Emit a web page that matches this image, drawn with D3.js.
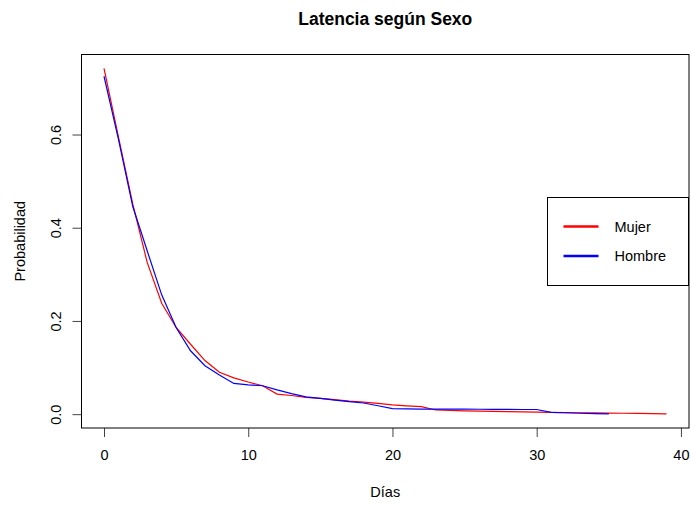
<!DOCTYPE html>
<html>
<head>
	<script src="https://d3js.org/d3.v7.min.js"></script>
	<meta charset="utf-8">
	<title>Latencia según Sexo</title>
	<style>
		body { margin: 0; background: #fff; }
		text { font-family: "Liberation Sans", Arial, Helvetica, sans-serif; fill: #000; }
	</style>
</head>
<body>
	<div id="chart"></div>

	<script type="text/javascript">

		// datos
		var diasMujer = [0,1,2,3,4,5,6,7,8,9,10,11,12,13,14,15,16,17,18,19,20,21,22,23,24,25,26,27,28,29,30,31,32,33,34,35,36,37,38,39];
		var probMujer = [0.742,0.595,0.450,0.325,0.238,0.186,0.150,0.115,0.090,0.078,0.069,0.061,0.043,0.040,0.036,0.034,0.031,0.028,0.026,0.023,
			0.020,0.018,0.016,0.009,0.008,0.007,0.0065,0.006,0.0055,0.005,0.0045,0.004,0.0035,0.003,0.0027,0.0023,0.002,0.0015,0.001,0.0005];

		var diasHombre = [0,1,2,3,4,5,6,7,8,9,10,11,12,13,14,15,16,17,18,19,20,21,22,23,24,25,26,27,28,29,30,31,32,33,34,35];
		var probHombre = [0.725,0.590,0.445,0.350,0.256,0.186,0.136,0.104,0.084,0.066,0.063,0.061,0.052,0.044,0.037,0.034,0.030,0.027,0.024,0.018,
			0.012,0.0115,0.011,0.011,0.011,0.0108,0.0106,0.0104,0.0102,0.010,0.010,0.004,0.003,0.002,0.001,0.0005];

		var xTicks = [0,10,20,30,40];
		var yTicks = [0.0,0.2,0.4,0.6];
		var leyenda = ["Mujer","Hombre"];
		var colores = ["red","blue"];

		var svgwidth = 691;
		var svgheight = 505;
		var plotLeft = 81.5, plotRight = 689, plotTop = 54.5, plotBottom = 428;
		var fs = 14.5;

		var svg = d3.select("#chart").append("svg")
			.attr("width", svgwidth)
			.attr("height", svgheight);

		// rango con 4% extra como R
		var xmin = 0, xmax = d3.max(diasMujer.concat(diasHombre));
		var ymin = 0, ymax = d3.max(probMujer.concat(probHombre));
		var xpad = (xmax - xmin) * 0.04, ypad = (ymax - ymin) * 0.04;

		var xScale = d3.scaleLinear()
			.domain([xmin - xpad, xmax + xpad])
			.range([plotLeft, plotRight]);
		var yScale = d3.scaleLinear()
			.domain([ymin - ypad, ymax + ypad])
			.range([plotBottom, plotTop]);

		var xAxis = d3.axisBottom(xScale).tickValues(xTicks).tickSize(9).tickPadding(13)
			.tickFormat(d3.format("d"));
		var yAxis = d3.axisLeft(yScale).tickValues(yTicks).tickSize(9)
			.tickFormat(d3.format(".1f"));

		var gx = svg.append("g")
			.attr("class", "xAxis")
			.attr("transform", "translate(0," + plotBottom + ")")
			.call(xAxis);
		gx.select(".domain").remove();
		gx.selectAll("line").attr("stroke", "#444");
		gx.selectAll("text").attr("font-size", fs).attr("fill", "#000");

		var gy = svg.append("g")
			.attr("class", "yAxis")
			.attr("transform", "translate(" + plotLeft + ",0)")
			.call(yAxis);
		gy.select(".domain").remove();
		gy.selectAll("line").attr("stroke", "#444");
		gy.selectAll("text")
			.attr("font-size", fs)
			.attr("fill", "#000")
			.attr("text-anchor", "middle")
			.attr("x", 0)
			.attr("y", -26)
			.attr("dy", "0.35em")
			.attr("transform", "rotate(-90)");

		// caja
		svg.append("rect")
			.attr("x", plotLeft).attr("y", plotTop)
			.attr("width", plotRight - plotLeft).attr("height", plotBottom - plotTop)
			.attr("fill", "none")
			.attr("stroke", "#000")
			.attr("stroke-width", 1);

		var line = d3.line()
			.x(function(d){ return xScale(d[0]); })
			.y(function(d){ return yScale(d[1]); });

		var series = [
			d3.zip(diasMujer, probMujer),
			d3.zip(diasHombre, probHombre)
		];

		svg.selectAll("path.serie")
			.data(series).enter().append("path")
			.attr("class", "serie")
			.attr("d", line)
			.attr("fill", "none")
			.attr("stroke", function(d, i){ return colores[i]; })
			.attr("stroke-width", 1.2);

		// titulos
		svg.append("text")
			.attr("x", (plotLeft + plotRight) / 2)
			.attr("y", 25)
			.attr("text-anchor", "middle")
			.attr("font-size", 17.5)
			.attr("font-weight", "bold")
			.text("Latencia según Sexo");

		svg.append("text")
			.attr("x", (plotLeft + plotRight) / 2)
			.attr("y", 497)
			.attr("text-anchor", "middle")
			.attr("font-size", fs)
			.text("Días");

		svg.append("text")
			.attr("transform", "translate(25," + (plotTop + plotBottom) / 2 + ") rotate(-90)")
			.attr("text-anchor", "middle")
			.attr("font-size", fs)
			.text("Probabilidad");

		// leyenda
		var leg = svg.append("g").attr("transform", "translate(547.5,197.5)");
		leg.append("rect")
			.attr("width", 141).attr("height", 88)
			.attr("fill", "#fff")
			.attr("stroke", "#000");
		leg.selectAll("line")
			.data(leyenda).enter().append("line")
			.attr("x1", 16).attr("x2", 51)
			.attr("y1", function(d, i){ return 29 + i * 29.5; })
			.attr("y2", function(d, i){ return 29 + i * 29.5; })
			.attr("stroke", function(d, i){ return colores[i]; })
			.attr("stroke-width", 2.5);
		leg.selectAll("text")
			.data(leyenda).enter().append("text")
			.attr("x", 67)
			.attr("y", function(d, i){ return 29 + i * 29.5; })
			.attr("dy", "0.35em")
			.attr("font-size", fs)
			.text(function(d){ return d; });

	</script>

</body>
</html>
